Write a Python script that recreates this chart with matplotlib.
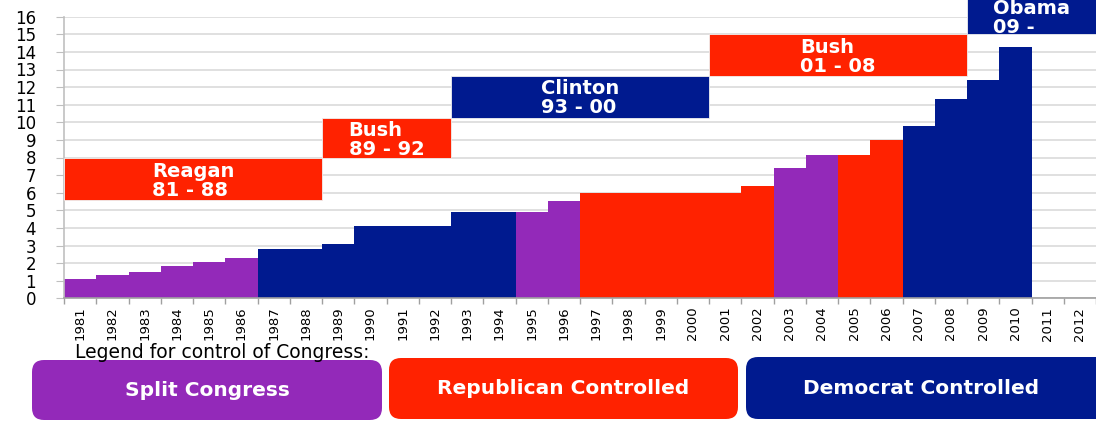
import matplotlib
matplotlib.use("Agg")
import matplotlib.pyplot as plt
import numpy as np
from matplotlib.patches import Rectangle, FancyBboxPatch

# ---------------- data ----------------
years = [str(y) for y in range(1981, 2013)]
debt = [1.08, 1.31, 1.51, 1.82, 2.06, 2.31, 2.80, 2.80, 3.10, 4.13,
        4.13, 4.13, 4.89, 4.89, 4.92, 5.53, 5.97, 5.97, 5.97, 5.97,
        5.97, 6.40, 7.40, 8.14, 8.14, 8.98, 9.81, 11.32, 12.42, 14.30,
        np.nan, np.nan]
control = (['Split'] * 6 + ['Democrat'] * 8 + ['Split'] * 2 +
           ['Republican'] * 6 + ['Split'] * 2 + ['Republican'] * 2 +
           ['Democrat'] * 4 + [None] * 2)

pres_names = ['Reagan', 'Bush', 'Clinton', 'Bush', 'Obama']
pres_terms = ['81 - 88', '89 - 92', '93 - 00', '01 - 08', '09 -']
pres_first = ['1981', '1989', '1993', '2001', '2009']
pres_last = ['1988', '1992', '2000', '2008', '2012']
pres_party = ['Republican', 'Republican', 'Democrat', 'Republican', 'Democrat']
pres_low = [5.6, 7.95, 10.27, 12.63, 15.0]
pres_high = [7.95, 10.27, 12.63, 15.0, 17.2]

legend_title = 'Legend for control of Congress:'
legend_keys = ['Split', 'Republican', 'Democrat']
legend_labels = ['Split Congress', 'Republican Controlled', 'Democrat Controlled']

colors = {'Split': '#9329B9', 'Republican': '#FF2200', 'Democrat': '#001A8F', None: 'none'}

# ---------------- figure ----------------
W, H = 1096, 421
fig = plt.figure(figsize=(W / 100, H / 100), dpi=100)
ax = fig.add_axes([64 / W, 1 - 298.3 / H, (W - 64) / W, (298.3 - 16.7) / H])

x = np.arange(len(years))
ax.bar(x, debt, width=1.0, color=[colors[c] for c in control],
       edgecolor='none', linewidth=0, zorder=2)

ax.set_xlim(-0.5, len(years) - 0.5)
ax.set_ylim(0, 16)
ax.set_yticks(range(0, 17))
ax.set_xticks(x)
ax.set_xticklabels(years, rotation=90, fontsize=9.5, family='DejaVu Sans')
ax.set_xticks(np.arange(-0.5, len(years), 1.0), minor=True)
ax.tick_params(axis='x', which='major', length=0, pad=6)
ax.tick_params(axis='x', which='minor', length=4, color='#A0A0A0', width=1)
ax.tick_params(axis='y', length=6, color='#BFBFBF', pad=14, labelsize=12)
for lab in ax.get_yticklabels():
    lab.set_family('DejaVu Sans')

ax.grid(axis='y', color='#DADADA', linewidth=1.2, zorder=0)
ax.set_axisbelow(True)
for s in ['top', 'right']:
    ax.spines[s].set_visible(False)
ax.spines['left'].set_color('#C0C0C0')
ax.spines['left'].set_linewidth(1.2)
ax.spines['bottom'].set_color('#A0A0A0')
ax.spines['bottom'].set_linewidth(1.2)

# president boxes
for name, term, f, l, party, lo, hi in zip(pres_names, pres_terms, pres_first,
                                            pres_last, pres_party, pres_low, pres_high):
    i0 = years.index(f)
    i1 = years.index(l)
    rect = Rectangle((i0 - 0.5, lo), i1 - i0 + 1, hi - lo,
                     facecolor=colors[party], edgecolor='#F0F0F0', linewidth=0.6,
                     zorder=3, clip_on=False)
    ax.add_patch(rect)
    ty = min((lo + hi) / 2 - 0.09, 15.9)   # keep text inside the figure
    ax.text((i0 + i1) / 2, ty, f'{name}\n{term}', ha='center',
            va='center', multialignment='left', color='white', fontsize=14,
            fontweight='bold', family='DejaVu Sans', linespacing=1.0,
            zorder=4, clip_on=False)

# legend area (pixel coordinate overlay)
ov = fig.add_axes([0, 0, 1, 1], zorder=5)
ov.set_xlim(0, W)
ov.set_ylim(H, 0)
ov.axis('off')
ov.text(75, 352, legend_title, ha='left', va='center', fontsize=13.5,
        family='DejaVu Sans', color='black')
box_x = [(32, 382), (389, 738), (746, 1110)]
box_y = [(360, 420), (358, 419), (357, 419)]
for key, lab, (x0, x1), (y0, y1) in zip(legend_keys, legend_labels, box_x, box_y):
    p = FancyBboxPatch((x0, y0), x1 - x0, y1 - y0,
                       boxstyle='round,pad=0,rounding_size=12',
                       facecolor=colors[key], edgecolor='none', clip_on=False)
    ov.add_patch(p)
    xc = (x0 + min(x1, 1096)) / 2
    ov.text(xc, (y0 + y1) / 2, lab, ha='center', va='center', color='white',
            fontsize=14.5, fontweight='bold', family='DejaVu Sans')

fig.savefig('out.png', dpi=100)
